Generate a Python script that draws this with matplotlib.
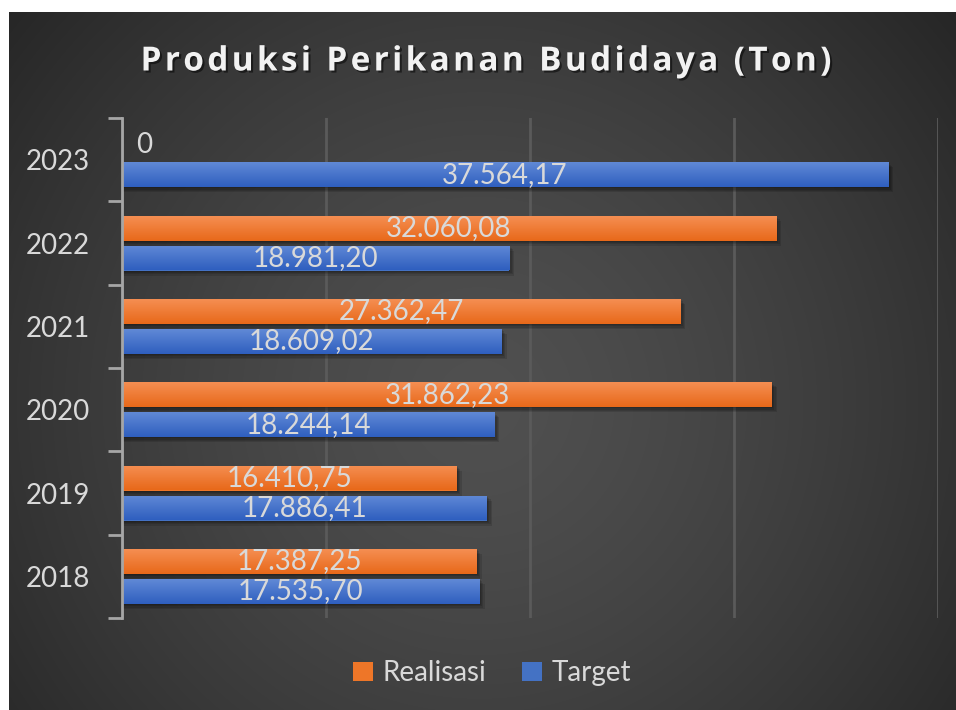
import numpy as np
import matplotlib
matplotlib.use("Agg")
import matplotlib.pyplot as plt
import matplotlib.patheffects as pe
from matplotlib.ticker import FixedLocator

# data
years = ["2018", "2019", "2020", "2021", "2022", "2023"]
realisasi = [17387.25, 16410.75, 31862.23, 27362.47, 32060.08, 0]
target = [17535.70, 17886.41, 18244.14, 18609.02, 18981.20, 37564.17]
realisasi_lbl = ["17.387,25", "16.410,75", "31.862,23", "27.362,47", "32.060,08", "0"]
target_lbl = ["17.535,70", "17.886,41", "18.244,14", "18.609,02", "18.981,20", "37.564,17"]

W, H = 956, 710
fig = plt.figure(figsize=(W / 100, H / 100), dpi=100, facecolor="white")

# background panel with radial gradient
bg = fig.add_axes([9 / W, 0, (W - 9) / W, (H - 12) / H])
bg.set_axis_off()
hh, ww = H - 12, W - 9
yy, xx = np.mgrid[0:hh, 0:ww]
r = np.sqrt((xx - 470) ** 2 + (yy - 390) ** 2) / 680
v = np.clip(80 - 48 * r ** 1.4, 30, 80) / 255
bg.imshow(np.dstack([v, v, v]), aspect="auto", extent=[0, 1, 0, 1])
bg.set_xlim(0, 1)
bg.set_ylim(0, 1)

ax = fig.add_axes([122 / W, 1 - 618 / H, (938 - 122) / W, (618 - 118) / H])
ax.patch.set_alpha(0)

y = np.arange(len(years))
h = 0.30
off = 0.18
font = ["Lato", "DejaVu Sans"]
txt_col = "#d9d9d9"


def grad_bars(bars, top, bottom):
    for b in bars:
        x0, y0 = b.get_x(), b.get_y()
        w, hb = b.get_width(), b.get_height()
        if w <= 0:
            continue
        # soft shadow
        for k in range(4):
            ax.add_patch(plt.Rectangle((x0, y0 - 0.015 - 0.015 * k), w + 60 + 60 * k, hb,
                                       color="black", alpha=0.12, lw=0, zorder=2))
        g = np.linspace(0, 1, 50)[:, None]
        c0, c1 = np.array(matplotlib.colors.to_rgb(top)), np.array(matplotlib.colors.to_rgb(bottom))
        img = c0[None, None, :] * (1 - g[..., None]) + c1[None, None, :] * g[..., None]
        img = np.repeat(img, 2, axis=1)
        im = ax.imshow(img, extent=[x0, x0 + w, y0, y0 + hb], aspect="auto",
                       origin="upper", zorder=3)
        im.set_clip_path(b)


rb = ax.barh(y + off, realisasi, height=h, color="#ee7628", zorder=3)
tb = ax.barh(y - off, target, height=h, color="#4472c4", zorder=3)
grad_bars(rb, "#f58e52", "#e8691a")
grad_bars(tb, "#6089d6", "#2f5fbf")

for i in range(len(years)):
    if realisasi[i] > 0:
        ax.text(realisasi[i] / 2, y[i] + off, realisasi_lbl[i], ha="center", va="center",
                color=txt_col, fontsize=20, family=font, zorder=5)
    else:
        ax.text(700, y[i] + off, realisasi_lbl[i], ha="left", va="center",
                color=txt_col, fontsize=20, family=font, zorder=5)
    ax.text(target[i] / 2, y[i] - off, target_lbl[i], ha="center", va="center",
            color=txt_col, fontsize=20, family=font, zorder=5)

ax.set_xlim(0, 40000)
ax.set_ylim(-0.5, len(years) - 0.5)
ax.set_xticks([0, 10000, 20000, 30000, 40000])
ax.xaxis.grid(True, color="#5a5a5a", lw=2)
ax.set_axisbelow(True)
ax.tick_params(axis="x", length=0, labelbottom=False)
ax.set_yticks(y)
ax.set_yticklabels(years, color=txt_col, fontsize=20, family=font)
ax.tick_params(axis="y", which="major", length=0, pad=23)
ax.yaxis.set_minor_locator(FixedLocator(np.arange(-0.5, len(years), 1)))
ax.tick_params(axis="y", which="minor", length=10, width=2, color="#a6a6a6")
for s in ["top", "right", "bottom"]:
    ax.spines[s].set_visible(False)
ax.spines["left"].set_color("#a6a6a6")
ax.spines["left"].set_linewidth(2)
ax.spines["left"].set_zorder(6)

title = "\u200a".join("Produksi Perikanan Budidaya (Ton)")
fig.text(487 / W, 1 - 62 / H, title, ha="center", va="center",
         fontsize=24, fontweight="bold", color="#f2f2f2",
         family=["Open Sans", "DejaVu Sans"],
         path_effects=[pe.SimplePatchShadow(offset=(1.5, -1.5), shadow_rgbFace="black", alpha=0.5),
                       pe.Normal()])

leg = fig.legend([rb, tb], ["Realisasi", "Target"], loc="center",
                 bbox_to_anchor=(492 / W, 1 - 673 / H), ncol=2, frameon=False,
                 handlelength=0.7, handleheight=0.7, handletextpad=0.35,
                 columnspacing=1.3, prop={"family": font, "size": 20})
for t in leg.get_texts():
    t.set_color(txt_col)

fig.savefig("out.png", dpi=100, facecolor="white")
